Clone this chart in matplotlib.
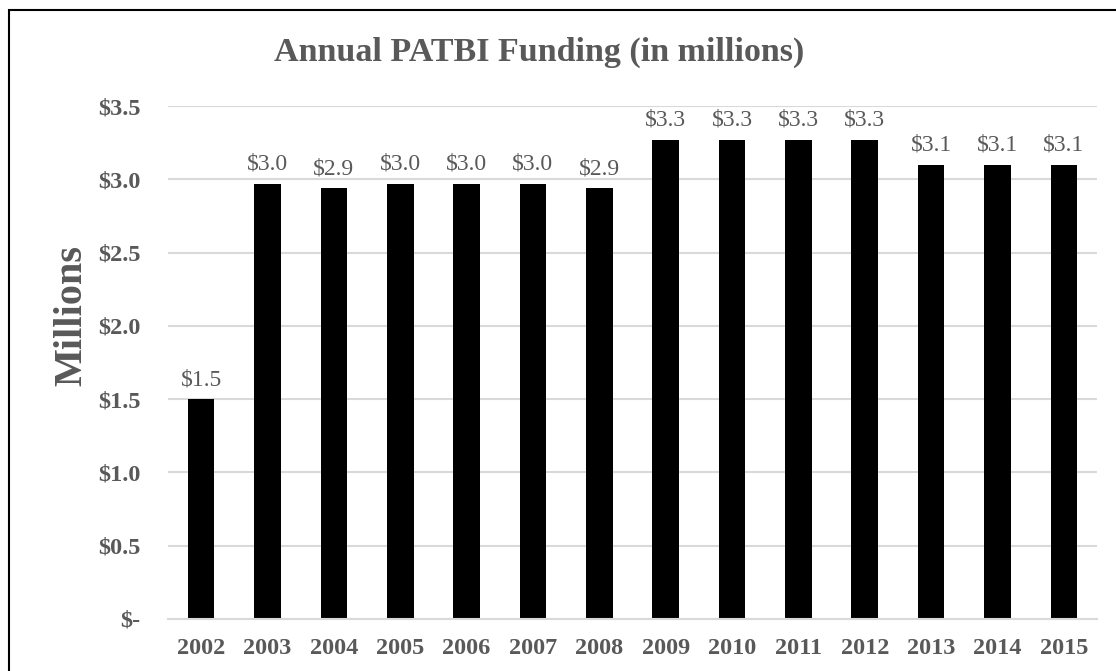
import matplotlib.pyplot as plt
from matplotlib.patches import Rectangle

years = ["2002", "2003", "2004", "2005", "2006", "2007", "2008",
         "2009", "2010", "2011", "2012", "2013", "2014", "2015"]
funding = [1.50, 2.97, 2.94, 2.97, 2.97, 2.97, 2.94,
           3.27, 3.27, 3.27, 3.27, 3.10, 3.10, 3.10]
y_ticks = [0.0, 0.5, 1.0, 1.5, 2.0, 2.5, 3.0, 3.5]
y_tick_labels = ["$-", "$0.5", "$1.0", "$1.5", "$2.0", "$2.5", "$3.0", "$3.5"]

TEXT_COLOR = "#595959"
GRID_COLOR = "#d9d9d9"

plt.rcParams["font.family"] = ["Liberation Serif", "DejaVu Serif"]

fig = plt.figure(figsize=(11.16, 6.71), dpi=100)
ax = fig.add_axes([168 / 1116, 52 / 671, 929 / 1116, 513 / 671])

x = range(len(years))
ax.bar(x, funding, width=0.4, color="black", zorder=2)

for xi, v in zip(x, funding):
    ax.text(xi, v + 0.06, f"${v:.1f}", ha="center", va="bottom",
            fontsize=17, color=TEXT_COLOR, clip_on=False)

ax.set_xlim(-0.5, len(years) - 0.5)
ax.set_ylim(0, 3.5)
ax.set_yticks(y_ticks)
ax.set_yticklabels(y_tick_labels)
ax.set_xticks(list(x))
ax.set_xticklabels(years)
ax.tick_params(axis="both", length=0, labelsize=17.5, labelcolor=TEXT_COLOR)
ax.tick_params(axis="y", pad=20)
ax.tick_params(axis="x", pad=14)
for lbl in ax.get_xticklabels() + ax.get_yticklabels():
    lbl.set_fontweight("bold")

ax.yaxis.grid(True, color=GRID_COLOR, lw=1.5, zorder=0)
ax.set_axisbelow(True)
for side in ("top", "right", "left"):
    ax.spines[side].set_visible(False)
ax.spines["bottom"].set_color(GRID_COLOR)
ax.spines["bottom"].set_linewidth(1.5)

fig.text(72 / 1116, 1 - 315 / 671, "Millions", rotation=90,
         ha="center", va="center", fontsize=29, fontweight="bold",
         color=TEXT_COLOR)
fig.text(539.5 / 1116, 1 - 52 / 671, "Annual PATBI Funding (in millions)",
         ha="center", va="center", fontsize=24.5, fontweight="bold",
         color=TEXT_COLOR)

# outer chart border, cropped at right and bottom as in the reference
fig.patches.append(Rectangle((9 / 1116, -0.1), 1.2, 1 - 10 / 671 + 0.1,
                             transform=fig.transFigure, fill=False,
                             edgecolor="black", lw=1.5))

fig.savefig("out.png", dpi=100)
